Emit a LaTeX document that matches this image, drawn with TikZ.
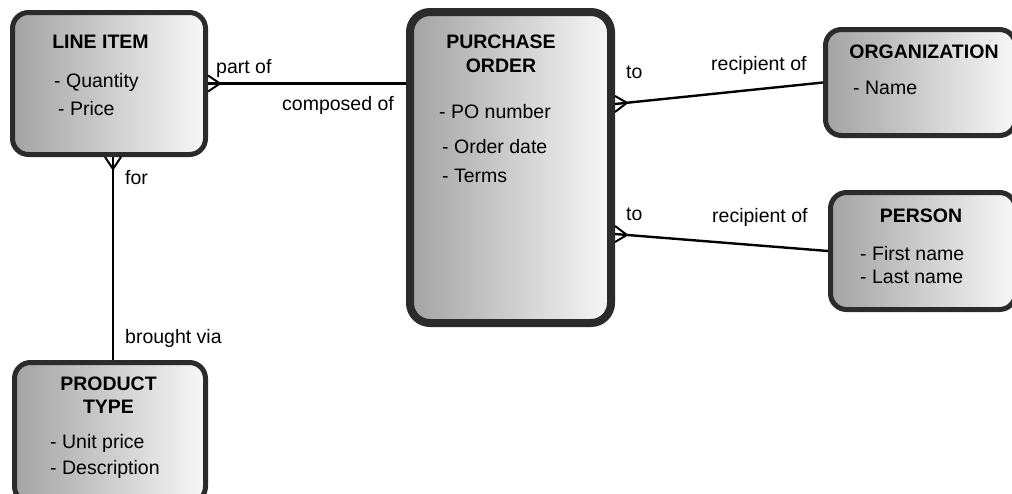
\documentclass[tikz,border=0pt]{standalone}
\usepackage{fontspec}
\setmainfont{Liberation Sans}
\usetikzlibrary{calc}
\definecolor{edge}{HTML}{2B2B2B}
\begin{document}
\begin{tikzpicture}[x=1pt,y=-1pt,
  entity/.style={draw=edge, rounded corners=16pt, line width=5pt,
    left color=black!36, right color=black!3, inner sep=0pt},
  link/.style={line width=2.4pt, black},
  foot/.style={line width=2pt, black, line join=miter},
  attr/.style={inner sep=0pt, anchor=base west, font=\fontsize{19.5}{23}\selectfont},
  heading/.style={inner sep=0pt, anchor=base, font=\fontsize{19.5}{23}\selectfont\bfseries},
  lbl/.style={inner sep=0pt, anchor=base west, font=\fontsize{19.5}{23}\selectfont}]
\clip (0,0) rectangle (1012,493);
\fill[white] (0,0) rectangle (1012,493);

% entity boxes
\node[entity, minimum width=193pt, minimum height=142pt] (li) at (109,83.5) {};
\node[entity, line width=8pt, rounded corners=20pt, minimum width=201pt, minimum height=311pt] (po) at (510.5,167.5) {};
\node[entity, minimum width=190pt, minimum height=106pt] (org) at (920.5,82.5) {};
\node[entity, minimum width=185pt, minimum height=117pt] (per) at (923,251) {};
\node[entity, minimum width=191pt, minimum height=140pt] (pt) at (110,432.5) {};

% entity texts
\node[heading] (liT) at (100.5,48) {LINE ITEM};
\node[attr] (liA) at (54,87) {- Quantity};
\node[attr] (liB) at (58,115) {- Price};

\node[heading] (poT1) at (501,48) {PURCHASE};
\node[heading] (poT2) at (501,72) {ORDER};
\node[attr] (poA1) at (439,118) {- PO number};
\node[attr] (poA2) at (442,153) {- Order date};
\node[attr] (poA3) at (442,182) {- Terms};

\node[heading] (orgT) at (924,58) {ORGANIZATION};
\node[attr] (orgA) at (853,94) {- Name};

\node[heading] (perT) at (921,222) {PERSON};
\node[attr] (perA) at (860,260) {- First name};
\node[attr] (perB) at (860,283) {- Last name};

\node[heading] (ptT1) at (108.5,390) {PRODUCT};
\node[heading] (ptT2) at (108.5,413) {TYPE};
\node[attr] (ptA) at (50,448) {- Unit price};
\node[attr] (ptB) at (50,474) {- Description};

% relationship lines with crow's feet on the "many" side
\draw[link] (li.east) -- (li.east -| po.west);
\draw[foot] ($(li.east)+(0,-8)$) -- ($(li.east)+(12,0)$) -- ($(li.east)+(0,8)$);

\coordinate (liS) at ([xshift=4pt]li.south);
\draw[link] (liS) -- (liS |- pt.north);
\draw[foot] ($(liS)+(-8,0)$) -- ($(liS)+(0,12)$) -- ($(liS)+(8,0)$);

\coordinate (poR1) at (po.east |- 0,104);
\draw[link] (poR1) -- (org.west);
\draw[foot] ($(poR1)+(0,-8)$) -- ($(poR1)!12pt!(org.west)$) -- ($(poR1)+(0,8)$);

\coordinate (poR2) at (po.east |- 0,234);
\draw[link] (poR2) -- (per.west);
\draw[foot] ($(poR2)+(0,-8)$) -- ($(poR2)!12pt!(per.west)$) -- ($(poR2)+(0,8)$);

% relationship labels
\node[lbl] (l1) at (216,73) {part of};
\node[lbl] (l2) at (282,110) {composed of};
\node[lbl] (l3) at (125,184) {for};
\node[lbl] (l4) at (125,343) {brought via};
\node[lbl] (l5) at (626,78) {to};
\node[lbl] (l6) at (711,70) {recipient of};
\node[lbl] (l7) at (626,220) {to};
\node[lbl] (l8) at (712,222) {recipient of};
\end{tikzpicture}
\end{document}
